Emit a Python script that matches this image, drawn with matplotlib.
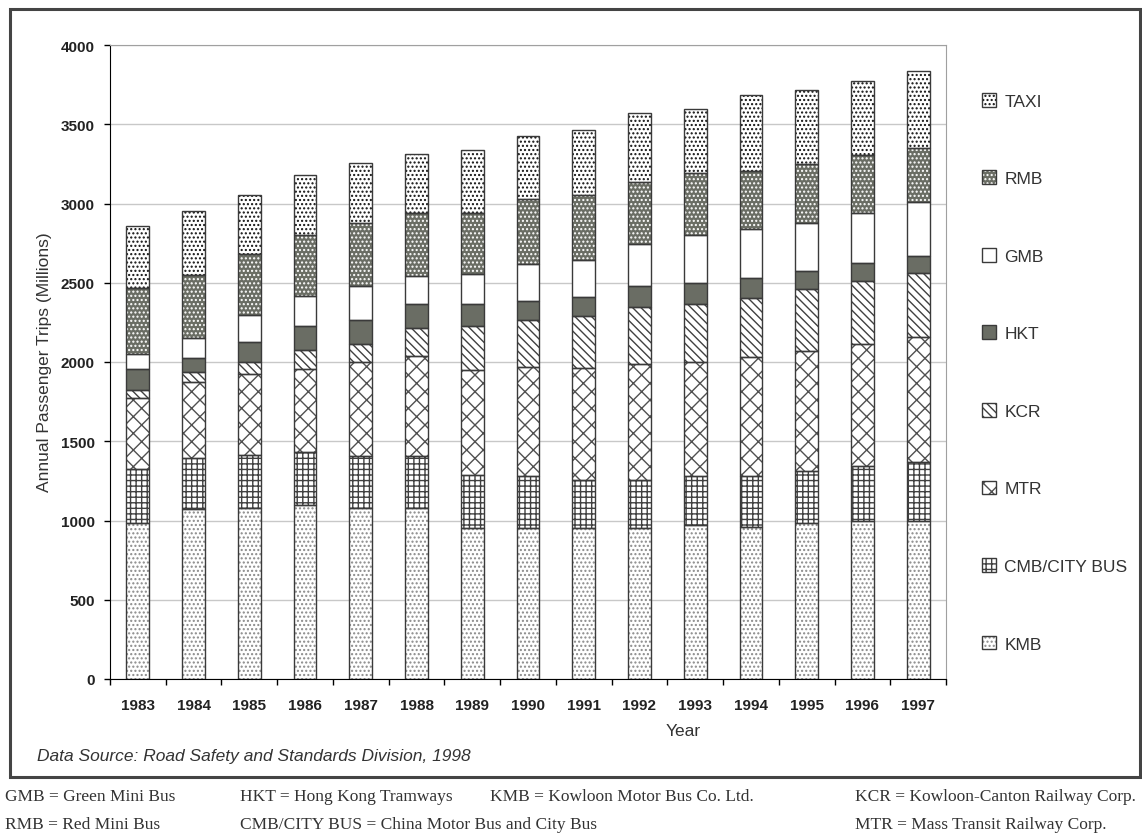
import numpy as np
import matplotlib.pyplot as plt
from matplotlib.patches import Patch, Rectangle

plt.rcParams['font.family'] = ['Liberation Sans', 'DejaVu Sans']
plt.rcParams['hatch.linewidth'] = 1.0

years = ['1983', '1984', '1985', '1986', '1987', '1988', '1989', '1990',
         '1991', '1992', '1993', '1994', '1995', '1996', '1997']

# annual passenger trips (millions), stacked from bottom to top
kmb = [985, 1070, 1078, 1100, 1076, 1076, 951, 951, 951, 951, 972, 957, 983, 994, 1000]
cmb = [340, 327, 336, 331, 333, 333, 336, 329, 302, 302, 307, 322, 327, 348, 367]
mtr = [447, 475, 510, 525, 593, 627, 665, 687, 707, 735, 723, 751, 762, 772, 790]
kcr = [53, 67, 74, 120, 112, 177, 274, 299, 333, 359, 365, 373, 390, 395, 407]
hkt = [131, 87, 131, 154, 152, 154, 141, 116, 117, 130, 133, 129, 114, 118, 105]
gmb = [95, 126, 167, 188, 213, 176, 190, 239, 232, 270, 300, 306, 304, 314, 338]
rmb = [416, 399, 384, 382, 396, 394, 386, 407, 411, 391, 390, 367, 367, 365, 342]
taxi = [388, 399, 372, 378, 380, 373, 392, 397, 412, 434, 407, 477, 467, 469, 485]

series = [
    ('KMB', kmb, 'white', '....', '#8a8a8a'),
    ('CMB/CITY BUS', cmb, 'white', '+++', '#404040'),
    ('MTR', mtr, 'white', 'xx', '#505050'),
    ('KCR', kcr, 'white', '\\\\\\\\', '#404040'),
    ('HKT', hkt, '#6a6d64', '', '#6a6d64'),
    ('GMB', gmb, 'white', '', 'white'),
    ('RMB', rmb, '#6a6d64', '....', 'white'),
    ('TAXI', taxi, 'white', '....', '#111111'),
]

fig = plt.figure(figsize=(11.42, 8.37), dpi=100)
ax = fig.add_axes([110/1142, 1-680/837, 836/1142, 634/837])

x = np.arange(len(years))
w = 0.41
bottom = np.zeros(len(years))
handles = []
for name, vals, face, hatch, hc in series:
    vals = np.array(vals, dtype=float)
    ax.bar(x, vals, w, bottom=bottom, color=face, hatch=hatch,
           edgecolor=hc, linewidth=0, zorder=2)
    ax.bar(x, vals, w, bottom=bottom, fill=False, edgecolor='#3a3a3a',
           linewidth=1, zorder=3)
    bottom += vals
    handles.append((Patch(facecolor=face, hatch=hatch, edgecolor=hc, linewidth=0),
                    Patch(fill=False, edgecolor='#3a3a3a', linewidth=1)))

ax.set_xlim(-0.5, len(years) - 0.5)
ax.set_ylim(0, 4000)
ax.set_yticks(np.arange(0, 4001, 500))
ax.set_xticks(x)
ax.set_xticklabels(years)
ax.set_xticks(np.arange(-0.5, len(years), 1), minor=True)
ax.tick_params(axis='x', which='major', length=0, pad=14)
ax.tick_params(axis='x', which='minor', length=4, direction='out', width=1)
ax.tick_params(axis='y', length=4, pad=7, width=1)
for lab in ax.get_xticklabels() + ax.get_yticklabels():
    lab.set_fontweight('bold')
    lab.set_fontsize(11)
    lab.set_color('#222222')
ax.grid(axis='y', color='#c8c8c8', linewidth=1, zorder=0)
ax.set_axisbelow(True)
ax.spines['top'].set_color('#a0a0a0')
ax.spines['right'].set_color('#a0a0a0')
ax.spines['left'].set_color('black')
ax.spines['bottom'].set_color('black')

names = [s[0] for s in series]
leg = fig.legend(handles[::-1], names[::-1], loc='upper left',
                 bbox_to_anchor=(973/1142, 1-85/837), frameon=False,
                 fontsize=12.5, labelspacing=3.55, handlelength=0.85,
                 handleheight=0.85, handletextpad=0.45, borderpad=0)
for t in leg.get_texts():
    t.set_color('#333333')

fig.text(45/1142, 1-362/837, 'Annual Passenger Trips (Millions)', rotation=90,
         ha='center', va='center', fontsize=12.5, color='#333333')
fig.text(683/1142, 1-732/837, 'Year', ha='center', va='center',
         fontsize=12.5, color='#333333')
fig.text(37/1142, 1-757/837, 'Data Source: Road Safety and Standards Division, 1998',
         ha='left', va='center', fontsize=12.5, style='italic', color='#333333')

fig.add_artist(Rectangle((10/1142, 1-778/837), 1130/1142, 768/837,
                         transform=fig.transFigure, fill=False,
                         edgecolor='#444444', linewidth=2.2))

foot = dict(ha='left', va='center', fontsize=12.5, family='Liberation Serif',
            color='#333333')
fig.text(5/1142, 1-797/837, 'GMB = Green Mini Bus', **foot)
fig.text(240/1142, 1-797/837, 'HKT = Hong Kong Tramways', **foot)
fig.text(490/1142, 1-797/837, 'KMB = Kowloon Motor Bus Co. Ltd.', **foot)
fig.text(855/1142, 1-797/837, 'KCR = Kowloon-Canton Railway Corp.', **foot)
fig.text(5/1142, 1-825/837, 'RMB = Red Mini Bus', **foot)
fig.text(240/1142, 1-825/837, 'CMB/CITY BUS = China Motor Bus and City Bus', **foot)
fig.text(855/1142, 1-825/837, 'MTR = Mass Transit Railway Corp.', **foot)

fig.savefig('out.png', dpi=100)
